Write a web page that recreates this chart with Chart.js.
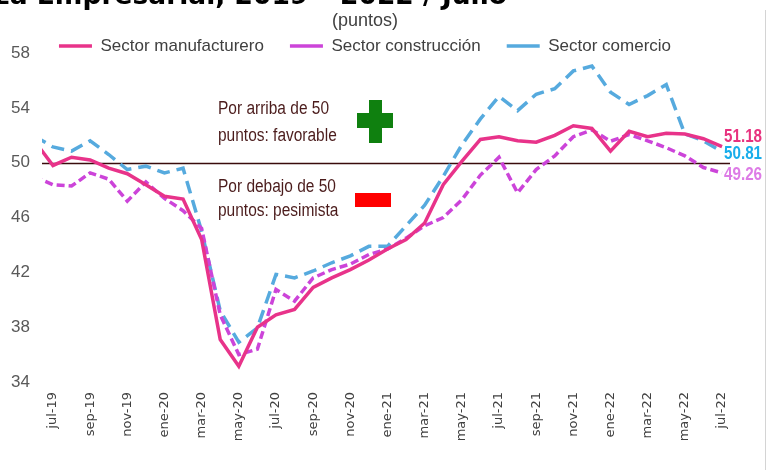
<!DOCTYPE html>
<html><head><meta charset="utf-8">
<script src="https://cdn.jsdelivr.net/npm/chart.js@4/dist/chart.umd.min.js"></script>
<style>
html,body{margin:0;padding:0;background:#fff;overflow:hidden;}
#wrap{position:relative;width:770px;height:470px;overflow:hidden;background:#fff;}
#title{position:absolute;right:263px;top:-18px;white-space:nowrap;font:bold 26.5px "DejaVu Sans",sans-serif;color:#000;line-height:26px;}
canvas{position:absolute;left:0;top:0;}
</style></head><body>
<div id="wrap"><canvas id="c" width="770" height="470"></canvas><div id="title">Indicadores de Confianza Empresarial, 2019 – 2022 / Julio</div></div>
<script>
// ---- data ----
const months = ['jun-19','jul-19','ago-19','sep-19','oct-19','nov-19','dic-19',
  'ene-20','feb-20','mar-20','abr-20','may-20','jun-20','jul-20','ago-20','sep-20','oct-20','nov-20','dic-20',
  'ene-21','feb-21','mar-21','abr-21','may-21','jun-21','jul-21','ago-21','sep-21','oct-21','nov-21','dic-21',
  'ene-22','feb-22','mar-22','abr-22','may-22','jun-22','jul-22'];
const manufacturero = [51.6,49.8,50.4,50.2,49.6,49.2,48.4,
  47.55,47.35,44.4,37.1,35.15,38.0,38.9,39.3,40.9,41.6,42.2,42.9,
  43.7,44.4,45.6,48.4,50.1,51.7,51.9,51.6,51.5,52.0,52.7,52.5,
  50.85,52.3,51.9,52.15,52.1,51.75,51.18];
const construccion = [49.0,48.4,48.3,49.26,48.8,47.2,48.6,
  47.4,46.5,45.2,38.9,36.0,36.4,40.75,39.9,41.6,42.2,42.6,43.3,
  43.7,44.5,45.4,46.0,47.3,49.1,50.4,47.8,49.5,50.5,51.9,52.4,
  51.57,52.06,51.6,51.1,50.5,49.65,49.26];
const comercio = [51.95,51.15,50.85,51.6,50.6,49.5,49.75,
  49.25,49.6,45.0,39.2,36.9,37.95,41.85,41.6,42.1,42.7,43.2,43.9,
  43.9,45.4,46.9,49.0,51.3,53.2,54.85,53.8,55.0,55.4,56.7,57.05,
  55.15,54.25,54.9,55.7,52.1,51.6,50.81];
const seriesNames = ['Sector manufacturero','Sector construcción','Sector comercio'];
const threshold = 50;
const yMin = 34, yMax = 58, yStep = 4;

// ---- chart ----
const SANS = '"Liberation Sans",Arial,sans-serif';
const toXY = arr => arr.map((v, i) => ({x: i, y: v}));

function condensedText(ctx, text, x, y, sx) {
  ctx.save();
  ctx.translate(x, y);
  ctx.scale(sx, 1);
  ctx.fillText(text, 0, 0);
  ctx.restore();
}

const decorPlugin = {
  id: 'decor',
  beforeDatasetsDraw(chart) {
    const {ctx, chartArea, scales} = chart;
    const y = Math.round(scales.y.getPixelForValue(threshold)) + 0.5;
    ctx.save();
    ctx.strokeStyle = '#3a0c0c';
    ctx.lineWidth = 1.6;
    ctx.beginPath();
    ctx.moveTo(chartArea.left, y);
    ctx.lineTo(chartArea.right, y);
    ctx.stroke();
    ctx.strokeStyle = '#d4d4d4';
    ctx.lineWidth = 1;
    ctx.beginPath();
    ctx.moveTo(765.5, 10);
    ctx.lineTo(765.5, 470);
    ctx.stroke();
    ctx.restore();
  },
  afterDatasetsDraw(chart) {
    const {ctx} = chart;
    ctx.save();
    ctx.fillStyle = '#4b1c1c';
    ctx.font = '18px ' + SANS;
    ctx.textAlign = 'left';
    ctx.textBaseline = 'middle';
    condensedText(ctx, 'Por arriba de 50', 218, 109, 0.86);
    condensedText(ctx, 'puntos: favorable', 218, 136, 0.86);
    condensedText(ctx, 'Por debajo de 50', 218, 187, 0.86);
    condensedText(ctx, 'puntos: pesimista', 218, 211, 0.86);
    ctx.fillStyle = '#0f800f';
    ctx.fillRect(369, 100, 13, 43);
    ctx.fillRect(357, 113, 36, 15);
    ctx.fillStyle = '#ff0000';
    ctx.fillRect(355, 193, 36, 14);
    const colors = ['#e8327f', '#dd7be6', '#18adeb'];
    const offsets = [-10, 2, 2];
    ctx.font = 'bold 19px ' + SANS;
    chart.data.datasets.forEach((ds, di) => {
      const meta = chart.getDatasetMeta(di);
      const last = meta.data[meta.data.length - 1];
      const val = ds.data[ds.data.length - 1].y;
      ctx.fillStyle = colors[di];
      condensedText(ctx, val.toFixed(2), last.x + 2, last.y + offsets[di], 0.8);
    });
    ctx.restore();
  }
};

new Chart(document.getElementById('c'), {
  type: 'line',
  data: {
    datasets: [
      {label: seriesNames[0], data: toXY(manufacturero), borderColor: '#e8338a', backgroundColor: '#e8338a',
       borderWidth: 3.5, pointRadius: 0, tension: 0},
      {label: seriesNames[1], data: toXY(construccion), borderColor: '#cc44d9', backgroundColor: '#cc44d9',
       borderWidth: 3.5, borderDash: [8, 4], pointRadius: 0, tension: 0},
      {label: seriesNames[2], data: toXY(comercio), borderColor: '#56aade', backgroundColor: '#56aade',
       borderWidth: 3.5, borderDash: [13, 7], pointRadius: 0, tension: 0}
    ]
  },
  options: {
    responsive: false,
    animation: false,
    devicePixelRatio: 1,
    layout: {padding: {left: 0, right: 40, top: 0, bottom: 0}},
    plugins: {
      title: {display: true, text: '(puntos)', color: '#404040',
        font: {family: SANS, size: 18, weight: 'normal'}, padding: {top: 10, bottom: -20}},
      legend: {
        display: true, position: 'top', align: 'center', maxHeight: 41.5,
        labels: {usePointStyle: true, pointStyle: 'line', pointStyleWidth: 33, padding: 26,
          color: '#404040', font: {family: SANS, size: 17}}
      },
      tooltip: {enabled: false}
    },
    scales: {
      x: {
        type: 'linear', min: 0.41, max: 37.43,
        grid: {display: false, drawTicks: false}, border: {display: false},
        afterBuildTicks: s => { s.ticks = months.map((m, i) => ({value: i})).filter(t => t.value % 2 === 1); },
        afterFit: s => { s.height = 88; },
        ticks: {autoSkip: false, maxRotation: 90, minRotation: 90, padding: 10, color: '#404040',
          font: {family: '"DejaVu Sans",sans-serif', size: 13},
          callback: v => months[v]}
      },
      y: {
        min: yMin, max: yMax,
        grid: {display: false, drawTicks: false}, border: {display: false},
        afterFit: s => { s.width = 42; },
        ticks: {stepSize: yStep, padding: 12, color: '#595959', font: {family: SANS, size: 17}}
      }
    }
  },
  plugins: [decorPlugin]
});
</script>
</body></html>
